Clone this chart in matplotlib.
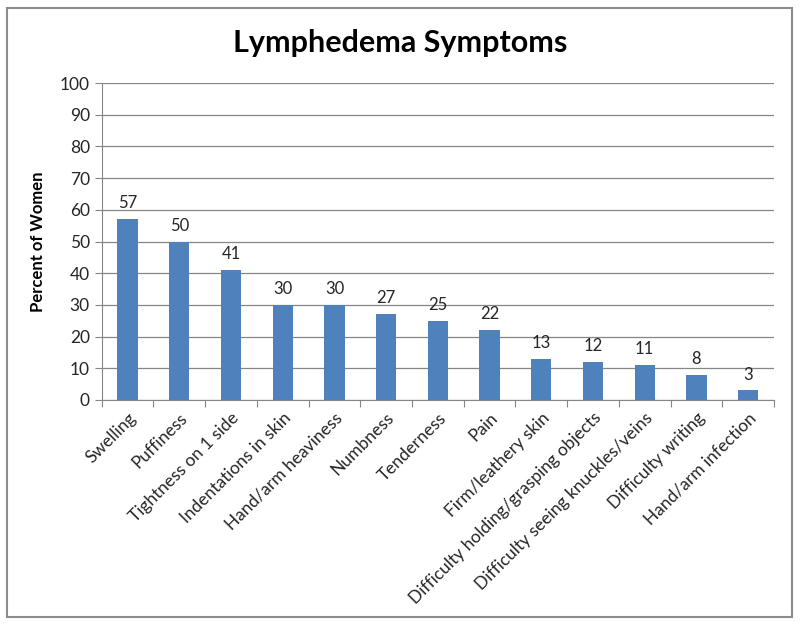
import matplotlib.pyplot as plt
from matplotlib.patches import Rectangle

# Chart data
symptoms = ['Swelling', 'Puffiness', 'Tightness on 1 side', 'Indentations in skin',
            'Hand/arm heaviness', 'Numbness', 'Tenderness', 'Pain',
            'Firm/leathery skin', 'Difficulty holding/grasping objects',
            'Difficulty seeing knuckles/veins', 'Difficulty writing',
            'Hand/arm infection']
percent = [57, 50, 41, 30, 30, 27, 25, 22, 13, 12, 11, 8, 3]
y_ticks = list(range(0, 101, 10))

plt.rcParams['font.family'] = ['Lato', 'DejaVu Sans']

fig = plt.figure(figsize=(8, 6.25), dpi=100)
ax = fig.add_axes([101.7 / 800, 1 - 400 / 625, (774 - 101.7) / 800, (400 - 83) / 625])

grey = '#868686'
x = list(range(len(symptoms)))
bars = ax.bar(x, percent, width=0.39, color='#4f81bd', zorder=3)
for b, v in zip(bars, percent):
    ax.text(b.get_x() + b.get_width() / 2, v + 2.5, str(v), ha='center', va='bottom',
            fontsize=12, color='#262626')

ax.set_xlim(-0.5, len(symptoms) - 0.5)
ax.set_ylim(0, 100)
ax.set_yticks(y_ticks)
ax.yaxis.grid(True, color=grey, linewidth=0.9, zorder=0)
ax.set_xticks([i - 0.5 for i in range(len(symptoms) + 1)])
ax.set_xticklabels([])
ax.set_xticks(x, minor=True)
ax.set_xticklabels(symptoms, minor=True, rotation=45, ha='right',
                   rotation_mode='anchor', fontsize=12.5, color='#262626')
ax.tick_params(axis='x', which='minor', length=0, pad=7)
ax.tick_params(axis='x', which='major', length=5, color=grey, direction='out')
ax.tick_params(axis='y', length=5, color=grey, labelsize=12.5, labelcolor='#262626')
for s in ['top', 'right']:
    ax.spines[s].set_visible(False)
for s in ['left', 'bottom']:
    ax.spines[s].set_color(grey)
ax.set_ylabel('Percent of Women', fontsize=12, fontweight='bold', labelpad=10)

fig.text(0.5, 1 - 43 / 625, 'Lymphedema Symptoms', ha='center', va='center',
         fontsize=22, fontweight='bold')

fig.patches.append(Rectangle((7 / 800, 8 / 625), 785 / 800, 609 / 625,
                             transform=fig.transFigure, fill=False,
                             edgecolor='#8c8c8c', linewidth=1.5))

fig.savefig('out.png', dpi=100, facecolor='white')
